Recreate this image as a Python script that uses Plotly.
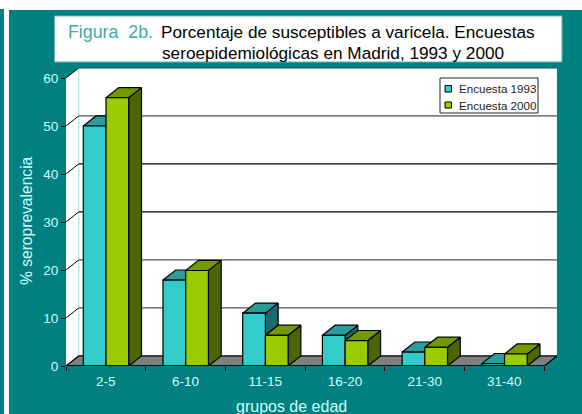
import plotly.graph_objects as go

W, H = 582, 414
groups = ["2-5", "6-10", "11-15", "16-20", "21-30", "31-40"]
survey_1993 = [50, 17.9, 11, 6.4, 2.9, 0.5]
survey_2000 = [55.9, 19.9, 6.4, 5.3, 3.9, 2.5]
y_ticks = [0, 10, 20, 30, 40, 50, 60]
name_1993 = "Encuesta 1993"
name_2000 = "Encuesta 2000"
y_title = "% seroprevalencia"
x_title = "grupos de edad"
title_a = "Figura  2b."
title_b = "Porcentaje de susceptibles a varicela. Encuestas"
title_c = "seroepidemiológicas en Madrid, 1993 y 2000"

TEAL = "#008080"
LIGHT = "#CCFFFF"
FONT = "Liberation Sans, Arial, sans-serif"

# Projection of the pseudo-3D box, in data units
DX, DY = 0.160, 2.10
PX_L, PX_R, PX_T, PX_B = 66, 557, 68, 366
CAT_W = 79.7
UNIT = 4.8
BAR_W = 0.285
BAR_OFF = 0.217
n = len(groups)


def px(v):
    return v / W


def py(v):
    return 1 - v / H


def faces(values, start):
    front, top, side = ([], []), ([], []), ([], [])
    for i, v in enumerate(values):
        a = i + start
        b = a + BAR_W
        front[0].extend([a, b, b, a, a, None])
        front[1].extend([0, 0, v, v, 0, None])
        top[0].extend([a, b, b + DX, a + DX, a, None])
        top[1].extend([v, v, v + DY, v + DY, v, None])
        side[0].extend([b, b + DX, b + DX, b, b, None])
        side[1].extend([0, DY, v + DY, v, 0, None])
    return front, top, side


def poly(xy, fill, line="#000000", width=1.2):
    return go.Scatter(x=xy[0], y=xy[1], mode="lines", fill="toself", fillcolor=fill,
                      line=dict(color=line, width=width), hoverinfo="skip",
                      showlegend=False, cliponaxis=False)


fig = go.Figure()
top_v = y_ticks[-1]
# walls
fig.add_trace(poly(([0, 0, DX, n + DX, n + DX, n, 0],
                    [0, top_v, top_v + DY, top_v + DY, DY, 0, 0]), "#FFFFFF", "#FFFFFF", 0))
# back-left corner line
fig.add_trace(go.Scatter(x=[DX, DX], y=[DY, top_v + DY], mode="lines", line=dict(color="#A8D8D8", width=1),
                         hoverinfo="skip", showlegend=False, cliponaxis=False))
# gridlines on the back wall and their diagonal on the side wall
grid_style = {0: None, 10: ("#555555", 1.2), 20: ("#555555", 1.2), 30: ("#000000", 1.2),
              40: ("#000000", 1.2), 50: ("#808080", 1.6), 60: ("#333333", 1.2)}
for v in y_ticks[1:]:
    c, w = grid_style[v]
    fig.add_trace(go.Scatter(x=[DX, n + DX], y=[v + DY, v + DY], mode="lines", line=dict(color=c, width=w),
                             hoverinfo="skip", showlegend=False, cliponaxis=False))
    fig.add_trace(go.Scatter(x=[0, DX], y=[v, v + DY], mode="lines", line=dict(color="#000000", width=1),
                             hoverinfo="skip", showlegend=False, cliponaxis=False))
# floor
fig.add_trace(poly(([0, DX, n + DX, n, 0], [0, DY, DY, 0, 0]), "#808080"))

# bars
f, t, s = faces(survey_1993, BAR_OFF)
fig.add_trace(poly(s, "#1E6B6B"))
fig.add_trace(poly(t, "#2A9C9C"))
fig.add_trace(poly(f, "#33CCCC"))
f, t, s = faces(survey_2000, BAR_OFF + BAR_W)
fig.add_trace(poly(s, "#4D6600"))
fig.add_trace(poly(t, "#739900"))
fig.add_trace(poly(f, "#99CC00"))

# baseline trace that activates the tick-only x axis
fig.add_trace(go.Scatter(x=[0, n], y=[0, 0], xaxis="x2", mode="lines", line=dict(color="#000000", width=1.6),
                         hoverinfo="skip", showlegend=False, cliponaxis=False))

x_range = [0, (PX_R - PX_L) / CAT_W]
y_range = [0, (PX_B - PX_T) / UNIT]
dom_x = [px(PX_L), px(PX_R)]
dom_y = [py(PX_B), py(PX_T)]

shapes = [
    dict(type="rect", xref="paper", yref="paper", x0=px(9), x1=1, y0=0, y1=py(10),
         fillcolor=TEAL, line_width=0, layer="below"),
    dict(type="rect", xref="paper", yref="paper", x0=0, x1=px(4), y0=0, y1=py(9),
         fillcolor=TEAL, line_width=0, layer="below"),
    dict(type="rect", xref="paper", yref="paper", x0=px(54.5), x1=px(562), y0=py(62), y1=py(16),
         fillcolor="#FFFFFF", line=dict(color="#66B2B2", width=1), layer="below"),
    dict(type="rect", xref="paper", yref="paper", x0=px(440), x1=px(538), y0=py(113), y1=py(78),
         fillcolor="#FFFFFF", line=dict(color="#222222", width=1), layer="above"),
    dict(type="rect", xref="paper", yref="paper", x0=px(445), x1=px(451.5), y0=py(92), y1=py(85.5),
         fillcolor="#33CCCC", line=dict(color="#000000", width=1), layer="above"),
    dict(type="rect", xref="paper", yref="paper", x0=px(445), x1=px(451.5), y0=py(108), y1=py(102),
         fillcolor="#99CC00", line=dict(color="#000000", width=1), layer="above"),
]


def label(x, y, text, color, size, anchor="left", angle=0):
    return dict(xref="paper", yref="paper", x=px(x), y=py(y), text=text, showarrow=False, xanchor=anchor,
                yanchor="middle", align="left", textangle=angle,
                font=dict(family=FONT, size=size, color=color))


annotations = [
    label(65.5, 32, title_a, "#3FA9A9", 17.8),
    label(159, 32, title_b, "#000000", 17.2),
    label(160, 53, title_c, "#000000", 17.2),
    label(457, 88, name_1993, "#222222", 11.6),
    label(457, 105, name_2000, "#222222", 11.6),
    label(291, 406, x_title, LIGHT, 16, anchor="center"),
    label(26, 221, y_title, LIGHT, 15.6, anchor="center", angle=-90),
]

fig.update_layout(
    width=W, height=H, autosize=False,
    margin=dict(l=0, r=0, t=0, b=0),
    paper_bgcolor="#FFFFFF", plot_bgcolor="rgba(0,0,0,0)",
    showlegend=False, shapes=shapes, annotations=annotations,
    xaxis=dict(domain=dom_x, range=x_range, showgrid=False, zeroline=False, showline=False,
               automargin=False,
               tickmode="array", tickvals=[i + 0.5 for i in range(n)], ticktext=groups,
               ticks="", ticklabelstandoff=5,
               tickfont=dict(family=FONT, size=13.5, color=LIGHT)),
    xaxis2=dict(domain=dom_x, range=x_range, anchor="y", overlaying="x", side="bottom", showgrid=False,
                automargin=False,
                zeroline=False, showline=False, showticklabels=False, tickmode="array",
                tickvals=list(range(n + 1)), ticks="outside", ticklen=4, tickcolor="#000000", tickwidth=1),
    yaxis=dict(domain=dom_y, range=y_range, showgrid=False, zeroline=False, showline=True,
               automargin=False,
               linecolor="#555555", linewidth=1.2, tickmode="array", tickvals=y_ticks, ticks="outside",
               ticklen=4, tickcolor="#000000", tickwidth=1,
               tickfont=dict(family=FONT, size=13.5, color=LIGHT)),
)

fig.write_html("out.html", config={"displayModeBar": False, "responsive": False},
               default_width="582px", default_height="414px",
               post_script="document.body.style.margin='0';document.body.style.overflow='hidden';"
                           "window.scrollTo(0,0);")
